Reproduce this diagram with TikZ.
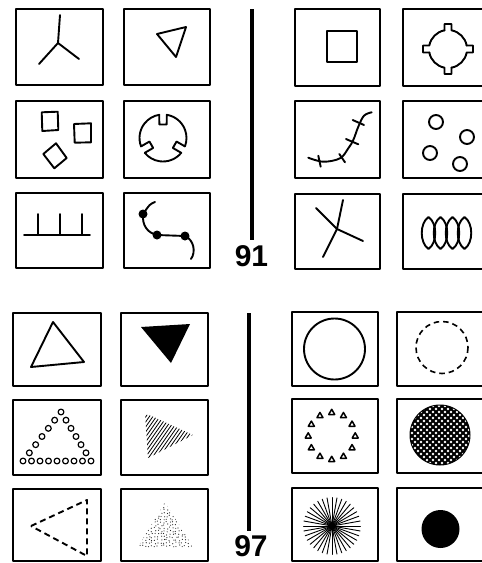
\documentclass[tikz,border=0pt]{standalone}
\usepackage{fontspec}
\newfontfamily\numfont{Liberation Sans}
\begin{document}
\begin{tikzpicture}[x=1pt,y=-1pt,line join=round,line cap=round,
	box/.style={line width=1.4pt},
	fig/.style={line width=1.9pt},
	thinfig/.style={line width=1.2pt},
	bar/.style={line width=3.2pt,line cap=butt},
	num/.style={font=\numfont\bfseries\fontsize{30}{30}\selectfont,inner sep=1pt}]
	\useasboundingbox (0,0) rectangle (482,563);
	\foreach \xa/\xb in {16/103,124/210}
		\foreach \ya/\yb in {9/85,101/178,193/268}
			\draw[box] (\xa,\ya) rectangle (\xb,\yb);
	\foreach \xa/\xb in {295/380,403/490}
		\foreach \ya/\yb in {9/86,101/178,194/269}
			\draw[box] (\xa,\ya) rectangle (\xb,\yb);
	\foreach \xa/\xb in {13/101,121/208}
		\foreach \ya/\yb in {313/386,400/475,489/561}
			\draw[box] (\xa,\ya) rectangle (\xb,\yb);
	\foreach \xa/\xb in {292/378,397/487}
		\foreach \ya/\yb in {312/386,399/473,488/561}
			\draw[box] (\xa,\ya) rectangle (\xb,\yb);
	\node[num] (n91) at (251.5,256) {91};
	\node[num] (n97) at (251,546) {97};
	\coordinate (s91) at (252,9);
	\coordinate (e91) at ([yshift=4pt]n91.north);
	\draw[bar] (s91) -- (s91 |- e91);
	\coordinate (s97) at (249,313);
	\coordinate (e97) at ([yshift=3pt]n97.north);
	\draw[bar] (s97) -- (s97 |- e97);
	% 91, left half
	\draw[fig] (58,43) -- (60,15);
	\draw[fig] (58,43) -- (39,64);
	\draw[fig] (58,43) -- (79,59);
	\draw[fig] (157,34) -- (186,27) -- (176,57) -- cycle;
	\draw[fig] (41.7,112.3) -- (57.7,111.7) -- (58.3,130) -- (42.3,131) -- cycle;
	\draw[fig] (74,124) -- (91,123.3) -- (91,142.3) -- (74.7,142.7) -- cycle;
	\draw[fig] (43.3,154) -- (56,143.3) -- (66.7,158) -- (54.3,168.3) -- cycle;
	\foreach \a in {30,150,270}
		\draw[fig,shift={(163,138)}] (\a-9.1:23.5) -- (\a-15.3:14) -- (\a+15.3:14) -- (\a+9.1:23.5)
			arc[start angle=\a+9.1,end angle=\a+110.9,radius=23.5];
	\draw[fig] (24,235) -- (90,235);
	\foreach \x in {38,60,82}
		\draw[fig] (\x,214) -- (\x,235);
	\draw[fig] (155,202) .. controls (150,204) .. (143,214) .. controls (142,226) and (148,233) .. (157,235)
		-- (185,236) .. controls (194,240) and (196,252) .. (191,259);
	\foreach \p in {(143,214),(157,235),(185,236)}
		\fill \p circle[radius=4.5];
	% 91, right half
	\draw[fig] (327,31) rectangle (357,62);
	\foreach \a in {0,90,180,270}
		\draw[fig,shift={(448,49)}] (\a-10.6:19) -- (\a-8:25.2) -- (\a+8:25.2) -- (\a+10.6:19)
			arc[start angle=\a+10.6,end angle=\a+79.4,radius=19];
	\draw[fig] plot[smooth,tension=0.6] coordinates {(308.3,157.7) (323.3,161.7) (340,158.3) (348.3,148.3) (353.3,140) (358.3,126.7) (364,115.7) (371.7,112.3)};
	\draw[fig] (318.3,155.7) -- (320.7,166.7);
	\draw[fig] (339.3,154) -- (345,162.3);
	\draw[fig] (346,139) -- (358.3,144.3);
	\draw[fig] (352.7,120) -- (364,125);
	\foreach \p in {(436,122),(467,137),(430,153),(460,164)}
		\draw[fig] \p circle[radius=7];
	\draw[fig] (316,208) -- (337,229) -- (363,241);
	\draw[fig] (343,200) -- (337,229) -- (323,257);
	\foreach \x in {428.5,440.5,452.5,464.5}
		\draw[fig] (\x,217) .. controls (\x+9,223) and (\x+9,243) .. (\x,249)
			.. controls (\x-9,243) and (\x-9,223) .. cycle;
	% 97, left half
	\draw[fig] (53,322) -- (84,362) -- (31,367) -- cycle;
	\fill (141,327) -- (190,324) -- (171,363) -- cycle;
	\foreach \t in {0,...,6}
		\draw[thinfig] ({61-38*\t/6},{412+49*\t/6}) circle[radius=2.9];
	\foreach \t in {1,...,6}
		\draw[thinfig] ({61+30*\t/6},{412+49*\t/6}) circle[radius=2.9];
	\foreach \t in {1,...,7}
		\draw[thinfig] ({23+68*\t/8},461) circle[radius=2.9];
	\begin{scope}
		\clip (145,413) -- (193,435) -- (148,458) -- cycle;
		\foreach \i in {0,...,26}
			\draw[line width=0.8pt] ({105+3.5*\i},465) -- ++(35,-50);
	\end{scope}
	\draw[fig,line cap=butt,dash pattern=on 6pt off 4pt] (31,526) -- (87,500) -- (87,556) -- cycle;
	\begin{scope}
		\pgfmathsetseed{7}
		\clip (165,502) -- (138,547) -- (193,547) -- cycle;
		\foreach \i in {0,...,19}
			\foreach \j in {0,...,16}
				\fill[black!85] ({136+3*\i+2*rnd},{500+3*\j+2*rnd}) circle[radius=0.6];
	\end{scope}
	% 97, right half
	\draw[fig] (334.5,349) circle[radius=30.5];
	\draw[line width=1.6pt,line cap=butt,dash pattern=on 5.5pt off 4pt] (442,347.5) circle[radius=26];
	\foreach \a in {0,30,...,330}
		\draw[line width=1.5pt,shift={(331.7,436)}] (\a:23.5) ++(-3,2) -- ++(6,0) -- ++(-3,-5.2) -- cycle;
	\fill (440,435) circle[radius=30.5];
	\begin{scope}
		\clip (440,435) circle[radius=29.5];
		\foreach \j in {0,...,22}
			\foreach \i in {0,...,11}
				\fill[white] ({406+6*\i+3*mod(\j,2)},{403+3*\j}) circle[radius=1.3];
	\end{scope}
	\foreach \a in {0,10,...,350}
		\draw[line width=0.9pt] (332,526) -- ++(\a:28.5);
	\fill (332,526) circle[radius=3.5];
	\fill (440.5,529) circle[radius=19];
\end{tikzpicture}
\end{document}
